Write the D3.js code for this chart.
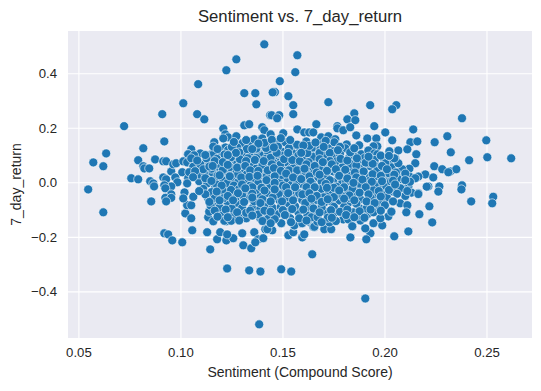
<!DOCTYPE html>
<html><head><meta charset="utf-8">
<script src="https://cdn.jsdelivr.net/npm/d3@7"></script>
<style>html,body{margin:0;padding:0;background:#fff}svg{display:block}text{font-family:"Liberation Sans",Arial,sans-serif;fill:#262626}</style>
</head><body><div id="c"></div>
<script>
const xTicks=[0.05,0.10,0.15,0.20,0.25];
const yTicks=[-0.4,-0.2,0.0,0.2,0.4];
const chartTitle="Sentiment vs. 7_day_return";
const xLabel="Sentiment (Compound Score)";
const yLabel="7_day_return";
const outerUpper=[[.1411,.506],[.1274,.451],[.1225,.411],[.1087,.36],[.1313,.327],[.1367,.327],[.1372,.286],[.1014,.29],[.0911,.25],[.1082,.25],[.1117,.231],[.0724,.206],[.1313,.209],[.1337,.213],[.121,.197],[.1401,.202],[.1411,.191],[.144,.246],[.1463,.331],[.122,.176],[.1234,.165],[.1274,.169],[.0921,.15],[.0818,.125],[.1166,.147],[.0636,.106],[.0573,.073],[.0622,.059],[.0548,-.026],[.0793,.081],[.0818,.059],[.0823,.051],[.0847,.051],[.0876,.084],[.0916,.077],[.093,.077],[.1053,.121],[.1097,.106],[.1037,.103],[.0759,.015],[.0793,.011],[.0852,.004],[.0867,-.004],[.0871,-.015],[.0916,.018],[.093,.011],[.0955,.04],[.0965,.066],[.0979,.07],[.1014,.077],[.0975,.018],[.0985,0],[.0955,-.015],[.0921,-.011],[.0926,-.022],[.0955,-.044],[.102,-.037],
[.1573,.466],[.1563,.404],[.1487,.371],[.1452,.33],[.1529,.316],[.1553,.283],[.1725,.294],[.1553,.25],[.1447,.246],[.1484,.246],[.1474,.235],[.193,.283],[.2058,.283],[.2038,.268],[.1852,.253],[.1818,.231],[.1857,.228],[.1666,.213],[.1769,.206],[.1769,.198],[.1798,.191],[.1832,.202],[.195,.206],[.1862,.172],[.1573,.194],[.1504,.18],[.1442,.176],[.1607,.183],[.1631,.183],[.1651,.183],[.2004,.183],[.2141,.194],[.2308,.169],[.2038,.154],[.2246,.147],[.2127,.147],[.2161,.15],[.2499,.154],[.238,.235],[.169,.165],[.1725,.169],[.1759,.158],[.1916,.161],[.196,.161],[.1876,.136],[.1965,.132],[.1946,.132],[.2068,.117],[.2024,.114],[.2112,.121],[.2325,.11],[.2156,.103],[.2415,.081],[.2504,.092],[.2621,.088],[.2151,.07],[.2244,.059],[.2283,.048],[.2323,.04],[.2352,.048],[.2313,.037],[.22,.029],[.2239,.018],[.238,-.011],[.2377,-.026],[.2269,-.015],[.2215,-.015]];
const outerLower=[[.2533,-.053],[.2528,-.077],[.2425,-.07],[.222,-.088],[.2171,-.117],[.2234,-.147],[.2117,-.18],[.2048,-.198],[.2077,-.077],[.2112,-.084],[.2107,-.11],[.2033,-.106],[.2019,-.125],[.1979,-.132],[.1989,-.158],[.1946,-.15],[.1931,-.187],[.1911,-.209],[.1833,-.202],[.1906,-.169],[.1843,-.161],[.1646,-.264],[.1494,-.319],[.1543,-.327],[.1906,-.426],[.1656,-.165],[.1705,-.172],[.1739,-.172],[.1597,-.202],[.1607,-.191],[.1529,-.194],[.1553,-.183],[.145,-.176],[.1494,-.15],[.1558,-.158],[.1592,-.15],[.1636,-.147],
[.1386,-.521],[.1229,-.316],[.1337,-.323],[.1392,-.327],[.0622,-.11],[.0857,-.07],[.0921,-.187],[.094,-.191],[.096,-.213],[.1009,-.22],[.1146,-.246],[.118,-.209],[.1225,-.213],[.1259,-.205],[.1195,-.183],[.1229,-.191],[.1131,-.183],[.1058,-.176],[.1303,-.187],[.1308,-.231],[.1347,-.242],[.1362,-.183],[.1381,-.209],[.1367,-.22],[.1406,-.205],[.1416,-.172],[.1024,-.114],[.1053,-.132],[.1033,-.084],[.1053,-.084],[.1161,-.143],[.1142,-.106],[.1136,-.128],[.12,-.114],[.1225,-.143],[.1249,-.139],[.1323,-.132],[.1267,-.12],[.1296,-.131],[.1014,-.059],[.1063,-.053],[.0926,-.057],[.0955,-.057],[.093,-.07]];
const coreLeft=[[.1303,.143],[.1352,.139],[.1391,.132],[.1431,.143],[.1465,.143],[.1514,.147],[.1553,.136],[.1617,.15],[.122,.128],[.1234,.117],[.1303,.099],[.1342,.11],[.1387,.107],[.1411,.107],[.146,.121],[.1499,.112],[.1553,.106],[.1597,.088],[.1651,.125],[.1153,.103],[.1176,.103],[.121,.084],[.1254,.081],[.1303,.07],[.1352,.062],[.1387,.073],[.1431,.059],[.148,.088],[.1524,.092],[.1563,.07],[.1597,.055],[.1651,.088],[.1141,.07],[.1176,.048],[.122,.033],[.1269,.048],[.1303,.051],[.1352,.027],[.1406,.037],[.1465,.033],[.1504,.051],[.1543,.037],[.1597,.029],[.1646,.045],[.1132,.018],[.1185,.011],[.123,.011],[.1269,.018],[.1318,.009],[.1362,.011],[.1406,.015],[.1445,.018],[.148,.011],[.1533,.009],[.1577,.018],[.1617,.011],[.1651,.011],
[.1038,.103],[.1067,.099],[.1053,.084],[.1033,.073],[.1097,.07],[.1063,.059],[.1128,.07],[.1126,.033],[.1087,.029],[.1043,.037],[.1009,.037],[.1038,.015],[.1092,.004],[.1128,.004],[.1033,-.004],
[.1053,.088],[.1063,.057],[.1097,.066],[.1092,.029],[.1043,.037],[.1122,.033],[.1146,.07],[.1181,.106],[.1161,.103],[.119,.048],[.121,.084],[.1249,.07],[.1279,.07],[.1333,.07],[.1357,.07],[.1391,.07],[.1303,.1],[.1347,.139],[.1337,.15],[.1362,.158],[.1401,.161],[.1352,.103],[.1391,.099],[.1431,.106],[.1303,.044],[.1259,.044],[.1234,.033],[.1357,.037],[.1391,.033],[.1436,.033],[.1161,.018],[.121,.007],[.1259,.007],[.1318,.007],[.1362,.011],[.1411,-.004],[.121,.161],[.1234,.119],[.1161,.131]];
const coreRight=[[.1725,.125],[.169,.139],[.1754,.147],[.1676,.125],[.1646,.125],[.1815,.139],[.1808,.125],[.1842,.114],[.1749,.114],[.1686,.121],[.1886,.103],[.1921,.117],[.195,.106],[.1965,.103],[.2053,.088],[.2024,.081],[.1651,.095],[.1705,.099],[.1754,.092],[.1828,.092],[.1882,.077],[.1931,.059],[.1764,.077],[.1798,.059],[.1661,.07],[.171,.062],[.1838,.044],[.1882,.051],[.2,.081],[.2,.037],[.2034,.055],[.2088,.048],[.2125,.021],[.1646,.033],[.1676,.018],[.1705,.033],[.1749,.04],[.1793,.055],[.1717,.018],[.1798,.015],[.1838,.009],[.1916,.011],[.1955,.021],[.2,.015],[.2034,.015],[.2068,.018],[.2088,.011],[.2166,.021],[.2122,.05],
[.2087,.048],[.2122,.021],[.2068,.07],[.2048,.088],[.2004,.07],[.1994,.033],[.2063,.015],[.2151,.015],[.2117,-.016],[.2166,-.04],[.2207,-.016],[.2264,-.034],[.199,-.04],[.1929,.07],[.1929,.021],[.1847,.045],[.2019,-.016],[.197,-.022],[.2084,-.022],[.1897,-.028],[.1831,-.01],[.1766,.009],[.17,.057],[.1651,.094],[.1602,.094],[.1537,.094],[.148,.088],[.1521,.057],[.1472,.045],[.1594,.033],[.1627,.057],[.1512,.009],[.1553,-.01],[.1602,-.01],[.1643,-.034],[.1472,-.028],[.1708,-.034],[.1766,-.04],[.1823,-.04]];
const coreLowerLeft=[[.1132,-.004],[.1169,-.022],[.122,-.022],[.1284,.002],[.1318,.005],[.1406,-.006],[.1484,.002],[.1543,-.01],[.1597,-.006],[.1646,-.004],[.1136,-.059],[.1185,-.046],[.1244,-.038],[.1333,-.034],[.1386,-.053],[.1445,-.034],[.1509,-.028],[.1563,-.05],[.1617,-.028],[.1169,-.077],[.123,-.071],[.1284,-.077],[.1333,-.059],[.1426,-.08],[.1484,-.065],[.1529,-.077],[.1597,-.065],[.1651,-.071],[.1141,-.108],[.1202,-.114],[.1259,-.124],[.1352,-.095],[.1426,-.114],[.1475,-.117],[.1524,-.108],[.1578,-.11],[.1622,-.12],[.1161,-.143],[.1215,-.141],[.1249,-.141],[.1323,-.132],[.1391,-.132],[.1431,-.132],[.1494,-.15],[.1558,-.158],[.1597,-.15],[.1651,-.163],[.1426,-.172]];
const coreLowerRight=[[.17,-.016],[.1749,.002],[.1793,-.001],[.1857,-.01],[.1926,.005],[.198,-.006],[.206,-.018],[.2125,.002],[.1681,-.038],[.1725,-.046],[.1764,-.016],[.1813,-.034],[.1852,-.046],[.1906,-.03],[.1955,-.046],[.2009,-.016],[.2078,-.022],[.2132,-.038],[.2166,-.043],[.1671,-.065],[.1705,-.075],[.174,-.071],[.1779,-.067],[.1823,-.075],[.1877,-.095],[.1931,-.08],[.1965,-.092],[.2034,-.108],[.1656,-.114],[.1715,-.11],[.1749,-.117],[.1798,-.136],[.1847,-.11],[.1916,-.117],[.1946,-.11],[.198,-.132],[.1656,-.163],[.1671,-.144],[.173,-.147],[.1882,-.14],[.1823,-.136],[.1842,-.161]];
const coreInfill=[[.1278,.128],[.1325,.122],[.1372,.118],[.142,.126],[.1478,.131],[.1532,.125],[.1588,.118],[.1622,.107],[.1262,.097],[.1216,.102],[.1178,.086],[.1128,.088],[.1331,.088],[.1372,.089],[.1418,.086],[.1462,.099],[.1512,.074],[.1578,.098],[.1628,.074],[.1192,.066],[.1242,.056],[.1288,.06],[.1372,.05],[.1412,.05],[.1452,.074],[.1488,.064],[.1552,.052],[.1612,.04],[.1158,.036],[.1208,.046],[.1282,.029],[.1326,.03],[.1422,.022],[.1496,.027],[.1562,.027],[.1632,.022],[.1152,.05],[.1112,.048],[.1072,.041],[.1172,-.004],[.1228,-.004],[.1262,-.012],[.1342,-.012],[.1382,-.002],[.1442,-.012],[.1502,-.012],[.1572,.002],[.1628,-.014],[.1112,-.024],[.1152,-.036],[.1212,-.034],[.1288,-.024],[.1372,-.028],[.1422,-.04],[.1482,-.044],[.1542,-.032],[.1582,-.04],[.1652,-.044],[.1122,-.044],[.1092,-.032],[.1168,-.058],[.1212,-.058],[.1272,-.054],[.1302,-.046],[.1362,-.07],[.1402,-.062],[.1452,-.056],[.1522,-.054],[.1628,-.055],[.1192,-.092],[.1252,-.096],[.1302,-.094],[.1392,-.096],[.1452,-.094],[.1492,-.09],[.1562,-.088],[.1622,-.09],[.1148,-.085],[.1322,-.112],[.1382,-.118],[.1462,-.135],[.1538,-.132],[.1582,-.132],[.1642,-.128],[.1682,.108],[.1732,.108],[.1782,.104],[.1848,.098],[.1902,.089],[.1952,.082],[.1682,.085],[.1732,.078],[.1832,.068],[.1862,.062],[.1962,.058],[.1682,.048],[.1732,.052],[.1772,.036],[.1822,.025],[.1872,.03],[.1962,.041],[.2022,.033],[.1692,.003],[.1732,-.012],[.1812,.002],[.1882,-.006],[.1952,-.01],[.2032,.003],[.1692,-.024],[.1742,-.028],[.1792,-.05],[.1842,-.024],[.1942,-.028],[.2042,-.034],[.2102,-.05],[.2012,-.056],[.1702,-.055],[.1752,-.054],[.1832,-.058],[.1882,-.062],[.1932,-.056],[.1982,-.068],[.1692,-.092],[.1752,-.09],[.1802,-.09],[.1862,-.078],[.1912,-.096],[.1672,-.128],[.1722,-.13],[.1762,-.142],[.1872,-.122],[.1412,.145],[.1252,.13],[.1442,.09],[.1372,.124],[.1288,.11],[.1498,.098],[.1182,.024],[.1122,.015],[.1402,.062],[.1062,.019],[.1082,.08],[.1572,.138],[.1632,.134],[.1712,.152],[.1782,.13]];
const coreDense=[[.1248,.092],[.1292,.084],[.1322,.078],[.1365,.082],[.1408,.078],[.1448,.066],[.1472,.108],[.1508,.085],[.1548,.082],[.1585,.078],[.1618,.066],[.1658,.06],[.1698,.074],[.1742,.066],[.1785,.086],[.1818,.08],[.1865,.088],[.1908,.072],[.1942,.068],[.1988,.06],[.2012,.048],[.2056,.036],
[.1168,.078],[.1208,.074],[.1232,.064],[.1278,.054],[.1318,.06],[.1342,.044],[.1382,.042],[.1428,.044],[.1458,.052],[.1492,.042],[.1532,.044],[.1572,.044],[.1608,.05],[.1668,.036],[.1718,.042],[.1762,.048],[.1808,.046],[.1855,.036],[.1898,.04],[.1942,.03],[.1982,.024],[.2048,.028],[.2102,.032],
[.1142,.058],[.1192,.026],[.1242,.022],[.1298,.018],[.1338,.02],[.1378,.024],[.1422,.008],[.1462,.022],[.1518,.032],[.1552,.018],[.1592,.012],[.1638,.002],[.1682,.028],[.1732,.008],[.1778,.024],[.1818,.014],[.1862,.018],[.1892,.01],[.1938,.002],[.1988,.004],[.2042,.006],[.2102,.008],
[.1152,.005],[.1202,-.012],[.1248,-.028],[.1302,-.008],[.1352,-.018],[.1398,-.02],[.1462,-.002],[.1518,-.018],[.1562,-.018],[.1618,-.018],[.1658,-.018],[.1712,-.006],[.1752,-.02],[.1802,-.018],[.1848,-.002],[.1908,-.018],[.1972,-.032],[.2022,-.028],[.2052,-.008],
[.1178,-.034],[.1232,-.05],[.1282,-.04],[.1318,-.022],[.1352,-.042],[.1412,-.03],[.1462,-.026],[.1528,-.04],[.1598,-.044],[.1632,-.04],[.1668,-.05],[.1718,-.02],[.1778,-.03],[.1828,-.048],[.1878,-.038],[.1922,-.044],[.1982,-.052],[.2062,-.042],[.2112,-.032],
[.1142,-.072],[.1192,-.066],[.1258,-.066],[.1312,-.072],[.1352,-.056],[.1392,-.076],[.1442,-.07],[.1498,-.07],[.1552,-.066],[.1612,-.076],[.1642,-.06],[.1692,-.072],[.1722,-.062],[.1802,-.06],[.1852,-.066],[.1912,-.07],[.1952,-.076],[.2002,-.084],[.2042,-.07],
[.1168,-.104],[.1222,-.1],[.1278,-.11],[.1342,-.104],[.1412,-.104],[.1442,-.108],[.1502,-.102],[.1548,-.098],[.1602,-.1],[.1652,-.096],[.1682,-.11],[.1738,-.102],[.1782,-.108],[.1818,-.1],[.1878,-.106],[.1932,-.1],[.1982,-.104],
[.1182,-.126],[.1232,-.128],[.1288,-.14],[.1352,-.122],[.1402,-.142],[.1442,-.15],[.1512,-.12],[.1542,-.146],[.1618,-.14],[.1692,-.146],[.1742,-.13],[.1812,-.12],[.1852,-.128],[.1902,-.13],
[.1262,.148],[.1322,.155],[.1382,.142],[.1448,.156],[.1492,.162],[.1538,.155],[.1602,.135],[.1662,.146],[.1702,.13],[.1772,.118],[.1832,.11],[.1852,.125],[.1922,.094],[.1982,.098],[.2022,.097],[.1458,.128],[.1528,.108],[.1592,.108],[.1352,.122],[.1272,.108],[.1232,.1],[.1182,.122],[.1122,.1],[.1158,.06]];
const pointGroups=[outerUpper,outerLower,coreLeft,coreRight,coreLowerLeft,coreLowerRight,coreInfill,coreDense];

const W=541,H=391,L=68,R=532,T=31,B=338;
const svg=d3.select("#c").append("svg").attr("width",W).attr("height",H);
const x=d3.scaleLinear().domain([0.0449,0.2723]).range([L,R]);
const y=d3.scaleLinear().domain([-0.571,0.555]).range([B,T]);
svg.append("rect").attr("x",L).attr("y",T).attr("width",R-L).attr("height",B-T).attr("fill","#eaeaf2");
const fmtY=d=>d3.format(".1f")(d).replace("-","\u2212");
const gx=svg.append("g").attr("transform",`translate(0,${B})`).call(d3.axisBottom(x).tickValues(xTicks).tickFormat(d3.format(".2f")).tickSize(-(B-T)).tickPadding(10));
const gy=svg.append("g").attr("transform",`translate(${L},0)`).call(d3.axisLeft(y).tickValues(yTicks).tickFormat(fmtY).tickSize(-(R-L)).tickPadding(11));
[gx,gy].forEach(g=>{g.select(".domain").remove();g.selectAll("line").attr("stroke","#fff").attr("stroke-width",1.1);g.selectAll("text").style("font-size","13.2px").attr("fill","#262626");});
const pts=pointGroups.flat();
svg.append("g").selectAll("circle").data(pts).join("circle")
 .attr("cx",d=>x(d[0])).attr("cy",d=>y(d[1])).attr("r",4.5)
 .attr("fill","#1f77b4").attr("stroke","#fff").attr("stroke-width",0.6);
svg.append("text").attr("x",(L+R)/2).attr("y",22).attr("text-anchor","middle").style("font-size","16.7px").text(chartTitle);
svg.append("text").attr("x",(L+R)/2).attr("y",377).attr("text-anchor","middle").style("font-size","14px").text(xLabel);
svg.append("text").attr("transform",`translate(21,${(T+B)/2}) rotate(-90)`).attr("text-anchor","middle").style("font-size","14px").text(yLabel);
</script></body></html>
